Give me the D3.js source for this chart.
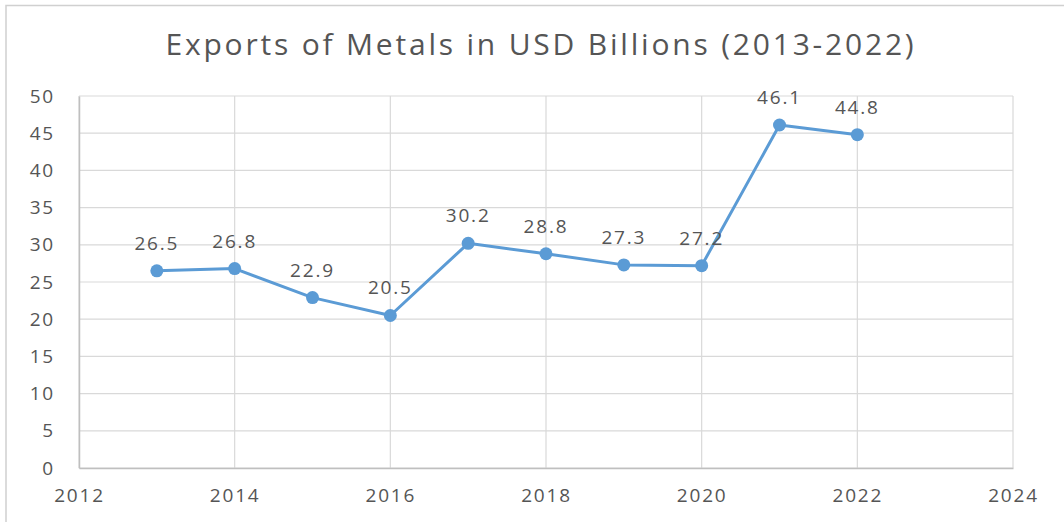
<!DOCTYPE html>
<html>
<head>
<meta charset="utf-8">
<script src="https://cdn.jsdelivr.net/npm/d3@7"></script>
<style>
  html, body { margin: 0; padding: 0; background: #fff; }
  svg { display: block; }
</style>
</head>
<body>
<svg id="chart" width="1064" height="522"></svg>
<script>
// Annual metal exports, USD billions
const years = [2013, 2014, 2015, 2016, 2017, 2018, 2019, 2020, 2021, 2022];
const exportsUSD = [26.5, 26.8, 22.9, 20.5, 30.2, 28.8, 27.3, 27.2, 46.1, 44.8];
const xTicks = [2012, 2014, 2016, 2018, 2020, 2022, 2024];
const yTicks = [0, 5, 10, 15, 20, 25, 30, 35, 40, 45, 50];
const title = "Exports of Metals in USD Billions (2013-2022)";

const svg = d3.select("#chart");
const font = "'Open Sans', 'Noto Sans', sans-serif";
const textColor = "#555555";
const lineColor = "#5b9bd5";

const plot = { left: 79, right: 1013, top: 96, bottom: 468 };

const x = d3.scaleLinear().domain([2012, 2024]).range([plot.left, plot.right]);
const y = d3.scaleLinear().domain([0, 50]).range([plot.bottom, plot.top]);

// Outer chart frame (left and top edges)
svg.append("path")
  .attr("d", "M6,522 V5.5 H1064")
  .attr("fill", "none")
  .attr("stroke", "#d0d0d0")
  .attr("stroke-width", 1.5);

// Title
svg.append("text")
  .attr("x", 541)
  .attr("y", 55)
  .attr("text-anchor", "middle")
  .attr("font-family", font)
  .attr("font-size", 30)
  .attr("letter-spacing", 2.8)
  .attr("fill", textColor)
  .text(title);

// Gridlines
const grid = svg.append("g").attr("stroke", "#d9d9d9").attr("stroke-width", 1.2);
grid.selectAll("line.h").data(yTicks).join("line")
  .attr("x1", plot.left).attr("x2", plot.right)
  .attr("y1", d => y(d)).attr("y2", d => y(d));
grid.selectAll("line.v").data(xTicks).join("line")
  .attr("y1", plot.top).attr("y2", plot.bottom)
  .attr("x1", d => x(d)).attr("x2", d => x(d));

// Axes
const yAxis = svg.append("g")
  .attr("transform", `translate(${plot.left},0)`)
  .call(d3.axisLeft(y).tickValues(yTicks).tickSize(0).tickPadding(24));
const xAxis = svg.append("g")
  .attr("transform", `translate(0,${plot.bottom})`)
  .call(d3.axisBottom(x).tickValues(xTicks).tickFormat(d3.format("d")).tickSize(0).tickPadding(21));

[yAxis, xAxis].forEach(g => {
  g.select(".domain").attr("stroke", "#bfbfbf").attr("stroke-width", 1.5);
  g.selectAll("text")
    .attr("font-family", font)
    .attr("font-size", 19)
    .attr("letter-spacing", 1.8)
    .attr("fill", textColor);
});

// Series line
const data = years.map((yr, i) => ({ year: yr, value: exportsUSD[i] }));
svg.append("path")
  .datum(data)
  .attr("fill", "none")
  .attr("stroke", lineColor)
  .attr("stroke-width", 3)
  .attr("stroke-linejoin", "round")
  .attr("d", d3.line().x(d => x(d.year)).y(d => y(d.value)));

// Markers
svg.selectAll("circle.pt").data(data).join("circle")
  .attr("class", "pt")
  .attr("cx", d => x(d.year))
  .attr("cy", d => y(d.value))
  .attr("r", 6.5)
  .attr("fill", lineColor);

// Value labels
svg.selectAll("text.lbl").data(data).join("text")
  .attr("class", "lbl")
  .attr("x", d => x(d.year))
  .attr("y", d => y(d.value) - 21)
  .attr("text-anchor", "middle")
  .attr("font-family", font)
  .attr("font-size", 19)
  .attr("letter-spacing", 1.8)
  .attr("fill", textColor)
  .text(d => d.value.toFixed(1));
</script>
</body>
</html>
